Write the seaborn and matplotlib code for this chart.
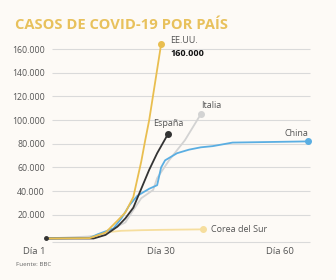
import matplotlib
matplotlib.use("Agg")
import matplotlib.pyplot as plt
import seaborn as sns
import pandas as pd

# ---- data ----
us_days = [1, 12, 16, 19, 21, 23, 25, 26, 27, 30]
us_vals = [0, 300, 5000, 15000, 22000, 35000, 65000, 83000, 100000, 164000]

es_days = [1, 13, 16, 19, 21, 23, 25, 27, 29, 31.7]
es_vals = [0, 0, 3000, 10000, 17000, 26000, 42000, 58000, 72000, 88000]

it_days = [1, 14, 18, 21, 23, 25, 28, 29, 32, 36, 40]
it_vals = [0, 2000, 8500, 13600, 24000, 34000, 41000, 51000, 66000, 83000, 105000]

cn_days = [1, 12, 14, 18, 20, 22, 24, 27, 29, 30, 31, 34, 37, 40, 43, 48, 67]
cn_vals = [0, 500, 3500, 8500, 17000, 28000, 36000, 42000, 45000, 60000, 66000,
           72000, 75000, 77000, 78000, 81000, 82000]

kr_days = [1, 10, 14, 17, 20, 25, 30, 35, 40.5]
kr_vals = [0, 500, 2500, 5500, 6500, 7000, 7300, 7500, 7700]

countries = ["EE.UU.", "España", "Italia", "China", "Corea del Sur"]
colors = ["#E9BE4F", "#333333", "#D3D3D3", "#5AAEE2", "#F6DE9E"]

yticks = [20000, 40000, 60000, 80000, 100000, 120000, 140000, 160000]
ytick_labels = ["20.000", "40.000", "60.000", "80.000", "100.000", "120.000", "140.000", "160.000"]
xticks = [1, 30, 60]
xtick_labels = ["Día 1", "Día 30", "Día 60"]

series = {
    "EE.UU.": (us_days, us_vals),
    "España": (es_days, es_vals),
    "Italia": (it_days, it_vals),
    "China": (cn_days, cn_vals),
    "Corea del Sur": (kr_days, kr_vals),
}
rows = []
for c in countries:
    d, v = series[c]
    for x, y in zip(d, v):
        rows.append({"pais": c, "dia": x, "casos": y})
df = pd.DataFrame(rows)

sns.set_theme(style="white")
plt.rcParams["font.family"] = ["Open Sans", "DejaVu Sans"]
bg = "#FDFAF6"

fig = plt.figure(figsize=(3.36, 2.80), dpi=100, facecolor=bg)
ax = fig.add_axes([40 / 336, 1 - 244.4 / 280, 272 / 336, (244.4 - 37.2) / 280])
ax.set_facecolor(bg)

ax.set_xlim(-0.5, 68)
ax.set_ylim(-5000, 170000)

# gridlines
ax.hlines(yticks + [-3000], 2.5, 67.5, colors="#DADADA", linewidth=0.8, zorder=0)

palette = dict(zip(countries, colors))
order_draw = ["Corea del Sur", "Italia", "China", "España", "EE.UU."]
for c in order_draw:
    sub = df[df["pais"] == c]
    sns.lineplot(data=sub, x="dia", y="casos", color=palette[c], linewidth=1.3,
                 ax=ax, legend=False, zorder=3, estimator=None, sort=False)
    ax.plot(sub["dia"].iloc[-1], sub["casos"].iloc[-1], "o", color=palette[c],
            markersize=4, zorder=4)
# start point
ax.plot(1, 0, "o", color="#333333", markersize=2.5, zorder=5)

for s in ax.spines.values():
    s.set_visible(False)
ax.set_xlabel("")
ax.set_ylabel("")
ax.set_yticks(yticks)
ax.set_yticklabels(ytick_labels)
ax.set_xticks(xticks)
ax.set_xticklabels(xtick_labels)
ax.tick_params(axis="y", length=0, pad=-3.6, labelsize=6.3, labelcolor="#555555")
ax.tick_params(axis="x", length=0, pad=2, labelsize=6.8, labelcolor="#555555")
ax.get_xticklabels()[0].set_horizontalalignment("right")

lab = dict(fontsize=6.5, color="#555555")
ax.text(32.3, 167000, "EE.UU.", ha="left", va="center", **lab)
ax.text(32.3, 156000, "160.000", ha="left", va="center", fontsize=6.5,
        color="#111111", fontweight="bold")
ax.text(31.8, 97500, "España", ha="center", va="center", **lab)
ax.text(40, 112000, "Italia", ha="left", va="center", **lab)
ax.text(67, 89000, "China", ha="right", va="center", **lab)
ax.text(42.5, 7700, "Corea del Sur", ha="left", va="center", **lab)

fig.text(15 / 336, 1 - 25 / 280, "CASOS DE COVID-19 POR PAÍS", ha="left", va="center",
         fontsize=10.6, fontweight="bold", color="#E8C15C")
fig.text(16 / 336, 1 - 265 / 280, "Fuente: BBC", ha="left", va="center",
         fontsize=4.5, color="#666666")

fig.savefig("out.png", dpi=100, facecolor=bg)
